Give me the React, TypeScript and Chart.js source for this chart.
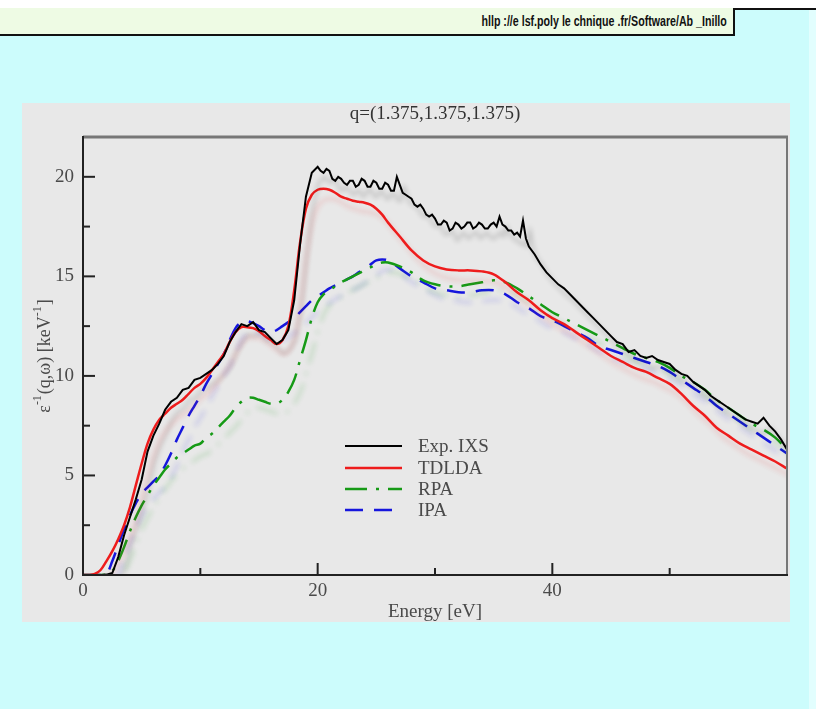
import React, { useEffect, useRef } from 'react';
import { Chart, registerables } from 'chart.js';

Chart.register(...registerables);

// ---------- data ----------
const TITLE = 'q=(1.375,1.375,1.375)';
const X_TITLE = 'Energy [eV]';
const BANNER_TEXT = 'hllp ://e lsf.poly le chnique .fr/Software/Ab _Inillo';
const X_MIN = 0;
const X_MAX = 60;
const Y_MIN = 0;
const Y_MAX = 22;
const X_LABELED_TICKS = [0, 20, 40];
const X_MAJOR_TICKS = [20, 40];
const X_MINOR_TICKS = [10, 30, 50];
const Y_LABELED_TICKS = [0, 5, 10, 15, 20];
const Y_MINOR_TICKS = [2.5, 7.5, 12.5, 17.5];
const SERIES_NAMES = ['Exp. IXS', 'TDLDA', 'RPA', 'IPA'];

// [energy eV, value keV^-1]
const expIXS: number[][] = [
  [0, 0], [0.5, 0], [1, 0], [1.5, 0], [2, 0.02], [2.5, 0.1], [3, 0.9], [3.5, 2.0], [4, 2.9], [4.5, 3.8],
  [5, 4.8], [5.5, 6.2], [6, 7.0], [6.5, 7.6], [7, 8.3], [7.5, 8.7], [8, 8.9], [8.5, 9.3], [9, 9.4], [9.5, 9.8],
  [10, 9.9], [10.5, 10.1], [11, 10.3], [11.5, 10.6], [12, 11.0], [12.5, 11.7], [13, 12.2], [13.5, 12.6], [14, 12.5], [14.5, 12.7],
  [15, 12.3], [15.5, 12.2], [16, 11.9], [16.5, 11.6], [17, 11.8], [17.5, 12.3], [18, 13.8], [18.5, 16.6], [19, 19.0], [19.5, 20.2],
  [20, 20.5], [20.25, 20.3], [20.5, 20.2], [20.75, 20.4], [21, 20.3], [21.25, 19.9], [21.5, 19.8], [21.75, 20.0], [22, 19.9], [22.25, 19.7],
  [22.5, 19.6], [22.75, 19.8], [23, 19.8], [23.25, 19.5], [23.5, 19.6], [23.75, 19.9], [24, 19.8], [24.25, 19.5], [24.5, 19.5], [24.75, 19.8],
  [25, 19.7], [25.25, 19.4], [25.5, 19.4], [25.75, 19.7], [26, 19.6], [26.25, 19.3], [26.5, 19.3], [26.75, 20.0], [27, 19.6], [27.25, 19.2],
  [27.5, 19.1], [27.75, 19.0], [28, 18.9], [28.25, 18.6], [28.5, 18.5], [28.75, 18.6], [29, 18.4], [29.25, 18.1], [29.5, 18.0], [29.75, 18.1],
  [30, 17.9], [30.25, 17.6], [30.5, 17.6], [30.75, 17.8], [31, 17.7], [31.25, 17.3], [31.5, 17.4], [31.75, 17.7], [32, 17.6], [32.25, 17.4],
  [32.5, 17.5], [32.75, 17.7], [33, 17.7], [33.25, 17.4], [33.5, 17.5], [33.75, 17.7], [34, 17.6], [34.25, 17.4], [34.5, 17.4], [34.75, 17.6],
  [35, 17.7], [35.25, 17.5], [35.5, 18.0], [35.75, 17.6], [36, 17.5], [36.25, 17.3], [36.5, 17.3], [36.75, 17.1], [37, 17.2], [37.25, 17.0],
  [37.5, 17.8], [37.75, 16.9], [38, 16.5], [38.5, 16.1], [39, 15.6], [39.5, 15.2],
  [40, 14.9], [40.5, 14.6], [41, 14.4], [41.5, 14.1], [42, 13.8], [42.5, 13.5], [43, 13.2], [43.5, 12.9], [44, 12.6], [44.5, 12.3],
  [45, 12.0], [45.5, 11.7], [46, 11.6], [46.5, 11.2], [47, 11.3], [47.5, 11.0], [48, 10.9], [48.5, 11.0], [49, 10.8], [49.5, 10.7],
  [50, 10.6], [50.5, 10.3], [51, 10.1], [51.5, 10.0], [52, 9.7], [52.5, 9.5], [53, 9.3], [53.5, 9.0], [54, 8.8], [54.5, 8.6],
  [55, 8.4], [55.5, 8.2], [56, 8.0], [56.5, 7.8], [57, 7.7], [57.5, 7.6], [58, 7.9], [58.5, 7.5], [59, 7.2], [59.5, 6.8],
  [60, 6.3],
];

const tdlda: number[][] = [
  [0, 0], [0.5, 0], [1, 0.05], [1.5, 0.25], [2, 0.7], [2.5, 1.2], [3, 1.8], [3.5, 2.5], [4, 3.4], [4.5, 4.5],
  [5, 5.6], [5.5, 6.6], [6, 7.3], [6.5, 7.8], [7, 8.1], [7.5, 8.4], [8, 8.6], [8.5, 8.8], [9, 9.1], [9.5, 9.4],
  [10, 9.6], [10.5, 9.9], [11, 10.3], [11.5, 10.7], [12, 11.1], [12.5, 11.7], [13, 12.2], [13.5, 12.45], [14, 12.45], [14.5, 12.4],
  [15, 12.25], [15.5, 12.0], [16, 11.8], [16.5, 11.6], [17, 11.8], [17.5, 12.5], [18, 14.3], [18.5, 16.7], [19, 18.4], [19.5, 19.1],
  [20, 19.35], [20.5, 19.4], [21, 19.35], [21.5, 19.2], [22, 19.0], [22.5, 18.9], [23, 18.8], [23.5, 18.75], [24, 18.7], [24.5, 18.6],
  [25, 18.4], [25.5, 18.1], [26, 17.7], [27, 17.0], [28, 16.3], [29, 15.8], [30, 15.5], [31, 15.35], [32, 15.3], [33, 15.3],
  [34, 15.25], [35, 15.1], [36, 14.7], [37, 14.2], [38, 13.8], [39, 13.3], [40, 12.9], [41, 12.6], [42, 12.2], [43, 11.8],
  [44, 11.4], [45, 11.0], [46, 10.7], [47, 10.4], [48, 10.2], [49, 9.9], [50, 9.6], [51, 9.1], [52, 8.5], [53, 8.0],
  [54, 7.4], [55, 7.0], [56, 6.6], [57, 6.3], [58, 6.0], [59, 5.7], [60, 5.35],
];

const rpa: number[][] = [
  [0, 0], [0.5, 0], [1, 0], [1.5, 0], [2, 0.02], [2.5, 0.2], [3, 0.7], [3.5, 1.4], [4, 2.2], [4.5, 2.9],
  [5, 3.5], [5.5, 4.0], [6, 4.5], [6.5, 4.9], [7, 5.3], [7.5, 5.6], [8, 5.9], [8.5, 6.1], [9, 6.3], [9.5, 6.5],
  [10, 6.6], [10.5, 6.9], [11, 7.1], [11.5, 7.4], [12, 7.7], [12.5, 8.0], [13, 8.4], [13.5, 8.7], [14, 8.9], [14.5, 8.9],
  [15, 8.8], [15.5, 8.7], [16, 8.6], [16.5, 8.6], [17, 8.8], [17.5, 9.2], [18, 9.8], [18.5, 10.8], [19, 11.8], [19.5, 12.9],
  [20, 13.7], [20.5, 14.1], [21, 14.3], [21.5, 14.5], [22, 14.7], [22.5, 14.85], [23, 15.0], [23.5, 15.15], [24, 15.3], [24.5, 15.45],
  [25, 15.6], [25.5, 15.7], [26, 15.7], [27, 15.5], [28, 15.2], [29, 14.8], [30, 14.6], [31, 14.5], [32, 14.5], [33, 14.6],
  [34, 14.7], [35, 14.8], [36, 14.7], [37, 14.4], [38, 14.0], [39, 13.6], [40, 13.2], [41, 12.9], [42, 12.6], [43, 12.3],
  [44, 12.0], [45, 11.7], [46, 11.4], [47, 11.1], [48, 10.9], [49, 10.7], [50, 10.4], [51, 10.0], [52, 9.7], [53, 9.3],
  [54, 8.8], [55, 8.4], [56, 8.0], [57, 7.6], [58, 7.3], [59, 6.9], [60, 6.3],
];

const ipa: number[][] = [
  [0, 0], [0.5, 0], [1, 0], [1.5, 0], [2, 0.05], [2.5, 0.7], [3, 1.5], [3.5, 2.3], [4, 3.0], [4.5, 3.6],
  [5, 4.1], [5.5, 4.4], [6, 4.7], [6.5, 5.0], [7, 5.5], [7.5, 6.1], [8, 6.8], [8.5, 7.4], [9, 8.0], [9.5, 8.5],
  [10, 9.0], [10.5, 9.6], [11, 10.1], [11.5, 10.6], [12, 11.1], [12.5, 11.8], [13, 12.4], [13.5, 12.7], [14, 12.75], [14.5, 12.65],
  [15, 12.5], [15.5, 12.3], [16, 12.2], [16.5, 12.3], [17, 12.5], [17.5, 12.7], [18, 12.9], [18.5, 13.2], [19, 13.5], [19.5, 13.8],
  [20, 14.0], [20.5, 14.2], [21, 14.4], [21.5, 14.55], [22, 14.7], [22.5, 14.85], [23, 15.0], [23.5, 15.2], [24, 15.4], [24.5, 15.6],
  [25, 15.8], [25.5, 15.85], [26, 15.8], [27, 15.4], [28, 15.0], [29, 14.7], [30, 14.4], [31, 14.3], [32, 14.2], [33, 14.2],
  [34, 14.3], [35, 14.3], [36, 14.1], [37, 13.7], [38, 13.4], [39, 13.0], [40, 12.8], [41, 12.5], [42, 12.2], [43, 11.9],
  [44, 11.5], [45, 11.3], [46, 11.1], [47, 10.9], [48, 10.7], [49, 10.5], [50, 10.2], [51, 9.8], [52, 9.4], [53, 9.0],
  [54, 8.5], [55, 8.1], [56, 7.7], [57, 7.3], [58, 6.9], [59, 6.5], [60, 6.1],
];

// ---------- styling ----------
const SERIF = "'Liberation Serif', 'DejaVu Serif', serif";
const TEXT_COLOR = '#4a4a4a';

const toPoints = (arr: number[][]) => arr.map(([x, y]) => ({ x, y }));

const decorPlugin = {
  id: 'decor',
  beforeDatasetDraw(chart: any, args: any) {
    const ds: any = chart.data.datasets[args.index];
    const ctx = chart.ctx;
    ctx.save();
    ctx.shadowColor = ds.shadowCol;
    ctx.shadowOffsetX = 7;
    ctx.shadowOffsetY = 10;
    ctx.shadowBlur = 5;
  },
  afterDatasetDraw(chart: any) {
    chart.ctx.restore();
  },
  afterDraw(chart: any) {
    const { ctx, chartArea: a, scales } = chart;
    const xs = scales.x;
    const ys = scales.y;
    const line = (x1: number, y1: number, x2: number, y2: number) => {
      ctx.beginPath();
      ctx.moveTo(x1, y1);
      ctx.lineTo(x2, y2);
      ctx.stroke();
    };
    ctx.save();
    ctx.setLineDash([]);
    ctx.lineCap = 'butt';
    // frame
    ctx.strokeStyle = '#777';
    ctx.lineWidth = 3;
    line(a.left, a.top, a.right + 1, a.top);
    ctx.lineWidth = 2;
    line(a.right, a.top, a.right, a.bottom);
    ctx.strokeStyle = '#222';
    ctx.lineWidth = 2;
    line(a.left, a.top - 1, a.left, a.bottom + 1);
    line(a.left - 1, a.bottom, a.right + 1, a.bottom);
    // ticks (inward)
    ctx.lineWidth = 2;
    Y_LABELED_TICKS.forEach((v) => {
      const p = ys.getPixelForValue(v);
      line(a.left, p, a.left + 12, p);
    });
    Y_MINOR_TICKS.forEach((v) => {
      const p = ys.getPixelForValue(v);
      line(a.left, p, a.left + 7, p);
    });
    X_MAJOR_TICKS.forEach((v) => {
      const p = xs.getPixelForValue(v);
      line(p, a.bottom, p, a.bottom - 12);
    });
    X_MINOR_TICKS.forEach((v) => {
      const p = xs.getPixelForValue(v);
      line(p, a.bottom, p, a.bottom - 7);
    });

    // title
    ctx.fillStyle = '#333';
    ctx.font = `19px ${SERIF}`;
    ctx.textAlign = 'center';
    ctx.textBaseline = 'middle';
    ctx.fillText(TITLE, (a.left + a.right) / 2, 11);

    // x title
    ctx.fillStyle = TEXT_COLOR;
    ctx.fillText(X_TITLE, (a.left + a.right) / 2, a.bottom + 37);

    // y title with superscripts
    const segs = [
      { t: 'ε', sup: false },
      { t: '-1', sup: true },
      { t: '(q,ω) [keV', sup: false },
      { t: '-1', sup: true },
      { t: ']', sup: false },
    ];
    const mainFont = `18px ${SERIF}`;
    const supFont = `12px ${SERIF}`;
    let total = 0;
    segs.forEach((s) => {
      ctx.font = s.sup ? supFont : mainFont;
      total += ctx.measureText(s.t).width + (s.sup ? 1 : 0);
    });
    ctx.save();
    ctx.translate(23, (a.top + a.bottom) / 2);
    ctx.rotate(-Math.PI / 2);
    ctx.textAlign = 'left';
    ctx.textBaseline = 'middle';
    let cx = -total / 2;
    segs.forEach((s) => {
      ctx.font = s.sup ? supFont : mainFont;
      ctx.fillText(s.t, cx, s.sup ? -7 : 0);
      cx += ctx.measureText(s.t).width + (s.sup ? 1 : 0);
    });
    ctx.restore();

    // legend
    const lx1 = 323;
    const lx2 = 380;
    const rowY = [343, 365, 386, 407];
    chart.data.datasets.forEach((ds: any, i: number) => {
      const y = rowY[i];
      ctx.strokeStyle = ds.borderColor;
      ctx.lineWidth = ds.borderWidth;
      ctx.setLineDash(ds.borderDash || []);
      line(lx1, y, lx2, y);
      ctx.setLineDash([]);
      ctx.fillStyle = TEXT_COLOR;
      ctx.font = `19px ${SERIF}`;
      ctx.textAlign = 'left';
      ctx.textBaseline = 'middle';
      ctx.fillText(ds.label, 396, y + 1);
    });
    ctx.restore();
  },
};

export default function App() {
  const canvasRef = useRef<HTMLCanvasElement | null>(null);

  useEffect(() => {
    const canvas = canvasRef.current;
    if (!canvas) return;
    const chart = new Chart(canvas, {
      type: 'line',
      data: {
        datasets: [
          {
            label: SERIES_NAMES[0],
            data: toPoints(expIXS),
            borderColor: '#000000',
            borderWidth: 2,
            tension: 0,
            shadowCol: 'rgba(0,0,0,0.22)',
          } as any,
          {
            label: SERIES_NAMES[1],
            data: toPoints(tdlda),
            borderColor: '#ee1c1c',
            borderWidth: 2.5,
            tension: 0.35,
            shadowCol: 'rgba(240,60,60,0.22)',
          } as any,
          {
            label: SERIES_NAMES[2],
            data: toPoints(rpa),
            borderColor: '#169a16',
            borderWidth: 2.5,
            borderDash: [22, 9, 3, 9],
            tension: 0.35,
            shadowCol: 'rgba(30,160,30,0.22)',
          } as any,
          {
            label: SERIES_NAMES[3],
            data: toPoints(ipa),
            borderColor: '#1616dd',
            borderWidth: 2.5,
            borderDash: [18, 11],
            tension: 0.35,
            shadowCol: 'rgba(40,40,230,0.2)',
          } as any,
        ],
      },
      options: {
        animation: false,
        responsive: false,
        maintainAspectRatio: false,
        layout: { padding: { top: 34, right: 3, left: 0, bottom: 0 } },
        plugins: {
          legend: { display: false },
          title: { display: false },
          tooltip: { enabled: false },
        },
        elements: { point: { radius: 0 } },
        scales: {
          x: {
            type: 'linear',
            min: X_MIN,
            max: X_MAX,
            grid: { display: false, drawTicks: false },
            border: { display: false },
            afterBuildTicks: (s: any) => {
              s.ticks = X_LABELED_TICKS.map((v) => ({ value: v }));
            },
            afterFit: (s: any) => {
              s.height = 47;
            },
            ticks: {
              font: { family: SERIF, size: 19 },
              color: TEXT_COLOR,
              padding: 5,
              maxRotation: 0,
              autoSkip: false,
            },
          },
          y: {
            type: 'linear',
            min: Y_MIN,
            max: Y_MAX,
            grid: { display: false, drawTicks: false },
            border: { display: false },
            afterBuildTicks: (s: any) => {
              s.ticks = Y_LABELED_TICKS.map((v) => ({ value: v }));
            },
            afterFit: (s: any) => {
              s.width = 61;
            },
            ticks: {
              font: { family: SERIF, size: 19 },
              color: TEXT_COLOR,
              padding: 9,
              autoSkip: false,
            },
          },
        },
      },
      plugins: [decorPlugin as any],
    });
    return () => chart.destroy();
  }, []);

  return (
    <div
      style={{
        position: 'absolute',
        left: 0,
        top: 0,
        width: 816,
        height: 709,
        background: '#ccfcfc',
        overflow: 'hidden',
      }}
    >
      <div style={{ position: 'absolute', left: 0, top: 0, width: 816, height: 8, background: '#ffffff' }} />
      <div style={{ position: 'absolute', left: 733, top: 8, width: 83, height: 2, background: '#111' }} />
      <div style={{ position: 'absolute', left: 809, top: 10, width: 7, height: 699, background: '#e2fefe' }} />
      <div
        style={{
          position: 'absolute',
          left: 0,
          top: 8,
          width: 733,
          height: 26,
          background: '#eefbe4',
          borderRight: '2px solid #111',
          borderBottom: '2px solid #111',
          overflow: 'hidden',
        }}
      >
        <span
          style={{
            position: 'absolute',
            right: 6,
            top: 0,
            lineHeight: '26px',
            fontFamily: "'Liberation Sans', Arial, sans-serif",
            fontWeight: 'bold',
            fontSize: 14,
            color: '#111',
            whiteSpace: 'nowrap',
            transform: 'scaleX(0.76)',
            transformOrigin: 'right center',
          }}
        >
          {BANNER_TEXT}
        </span>
      </div>
      <div
        style={{
          position: 'absolute',
          left: 22,
          top: 103,
          width: 768,
          height: 519,
          background: '#e8e8e8',
        }}
      >
        <canvas ref={canvasRef} width={768} height={519} style={{ display: 'block' }} />
      </div>
    </div>
  );
}
